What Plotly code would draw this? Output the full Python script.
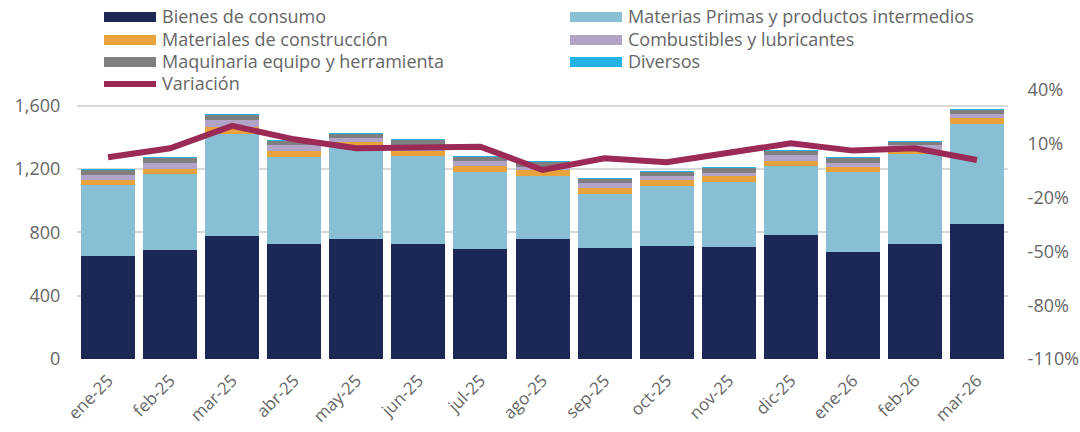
import plotly.graph_objects as go

categories = ['ene-25', 'feb-25', 'mar-25', 'abr-25', 'may-25', 'jun-25', 'jul-25', 'ago-25',
              'sep-25', 'oct-25', 'nov-25', 'dic-25', 'ene-26', 'feb-26', 'mar-26']
bienes_consumo = [654, 687, 780, 725, 761, 725, 694, 757, 704, 717, 710, 782, 677, 727, 855]
materias_primas = [443, 480, 645, 551, 586, 561, 485, 397, 339, 374, 410, 435, 506, 566, 631]
materiales_construccion = [34, 33, 42, 38, 26, 30, 42, 40, 35, 40, 34, 36, 32, 27, 38]
combustibles = [31, 40, 42, 38, 23, 34, 30, 19, 36, 25, 21, 35, 21, 32, 23]
maquinaria = [35, 33, 37, 26, 28, 35, 30, 32, 24, 31, 35, 29, 35, 24, 29]
diversos = [1, 1, 1, 1, 1, 1, 1, 1, 1, 1, 1, 1, 1, 1, 1]
variacion = [2.5, 7.5, 20, 12.5, 7.5, 8, 8.4, -4.6, 1.9, -0.3, 4.7, 10.3, 6.2, 7.5, 1]

left_ticks = [0, 400, 800, 1200, 1600]
right_ticks = [-110, -80, -50, -20, 10, 40]
right_tick_labels = ['-110%', '-80%', '-50%', '-20%', '10%', '40%']

series = [
    ('Bienes de consumo', bienes_consumo, '#1B2754'),
    ('Materias Primas y productos intermedios', materias_primas, '#88BFD4'),
    ('Materiales de construcción', materiales_construccion, '#E8A33C'),
    ('Combustibles y lubricantes', combustibles, '#B2A3C8'),
    ('Maquinaria equipo y herramienta', maquinaria, '#7F7F7F'),
    ('Diversos', diversos, '#22B2E4'),
]
line_color = '#9B2A56'
text_color = '#666666'
FONT = 'Open Sans'

fig = go.Figure()
for name, vals, col in series:
    fig.add_trace(go.Bar(x=categories, y=vals, name=name, marker=dict(color=col, line=dict(width=0)),
                         showlegend=False))
fig.add_trace(go.Scatter(x=categories, y=variacion, name='Variación', yaxis='y2', mode='lines',
                         line=dict(color=line_color, width=6), showlegend=False))

# plot area geometry (pixels)
W, H = 1080, 432
L, R, T, B = 77, 72, 90, 73
pw, ph = W - L - R, H - T - B


def px(x):
    return (x - L) / pw


def py(y):
    return (H - B - y) / ph


shapes = []
annotations = []
legend_items = [
    # (label, color, kind, swatch_x0, text_x, row_center_y)
    ('Bienes de consumo', '#1B2754', 'bar', 104, 160, 17),
    ('Materias Primas y productos intermedios', '#88BFD4', 'bar', 570, 626, 17),
    ('Materiales de construcción', '#E8A33C', 'bar', 104, 160, 40),
    ('Combustibles y lubricantes', '#B2A3C8', 'bar', 570, 626, 40),
    ('Maquinaria equipo y herramienta', '#7F7F7F', 'bar', 104, 160, 62),
    ('Diversos', '#22B2E4', 'bar', 570, 626, 62),
    ('Variación', line_color, 'line', 104, 160, 84),
]
for label, col, kind, sx, tx, cy in legend_items:
    if kind == 'bar':
        shapes.append(dict(type='rect', xref='paper', yref='paper',
                           x0=px(sx), x1=px(sx + 52), y0=py(cy + 5), y1=py(cy - 5),
                           fillcolor=col, line=dict(width=0)))
    else:
        shapes.append(dict(type='line', xref='paper', yref='paper',
                           x0=px(sx), x1=px(sx + 52), y0=py(cy), y1=py(cy),
                           line=dict(color=col, width=6)))
    annotations.append(dict(text=label, xref='paper', yref='paper', x=px(tx), y=py(cy - 1),
                            xanchor='left', yanchor='middle', showarrow=False,
                            font=dict(family=FONT, size=18, color=text_color)))

fig.update_layout(
    width=W, height=H,
    barmode='stack', bargap=0.13,
    paper_bgcolor='white', plot_bgcolor='white',
    margin=dict(l=L, r=R, t=T, b=B, autoexpand=False),
    font=dict(family=FONT, size=18, color=text_color),
    showlegend=False,
    shapes=shapes, annotations=annotations,
    xaxis=dict(type='category', tickangle=-45, ticks='outside', ticklen=4,
               tickcolor='rgba(0,0,0,0)', showgrid=False, showline=False,
               tickfont=dict(family=FONT, size=17, color=text_color)),
    yaxis=dict(range=[0, 1700], tickvals=left_ticks, tickformat=',', showgrid=True,
               gridcolor='#D9D9D9', gridwidth=1.5, zeroline=False, showline=False,
               ticks='outside', ticklen=12, tickcolor='rgba(0,0,0,0)',
               tickfont=dict(family=FONT, size=18, color=text_color)),
    yaxis2=dict(range=[-110, 40], tickvals=right_ticks, ticktext=right_tick_labels, overlaying='y',
                side='right', showgrid=False, zeroline=False, showline=False,
                ticks='outside', ticklen=15, tickcolor='rgba(0,0,0,0)',
                tickfont=dict(family=FONT, size=18, color=text_color)),
)

fig.write_html('out.html', config={'displayModeBar': False},
               post_script="document.body.style.margin='0';document.body.style.overflow='hidden';")
